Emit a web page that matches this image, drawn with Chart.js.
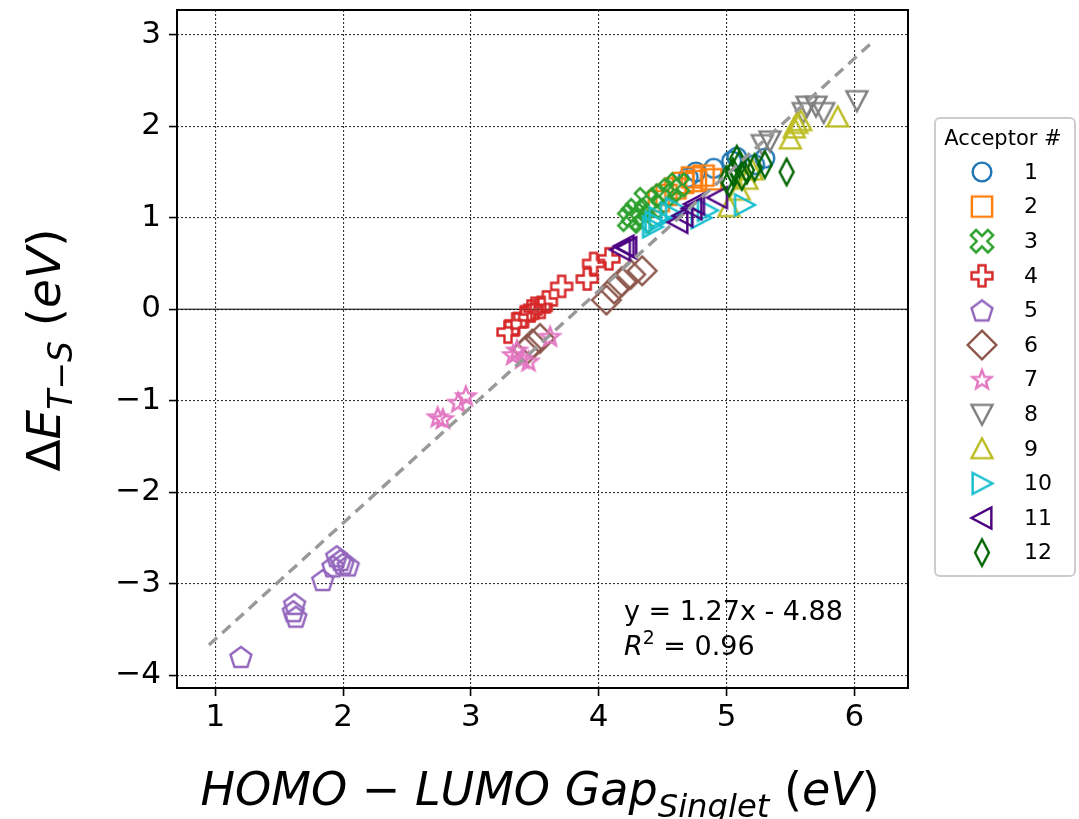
<!DOCTYPE html>
<html>
<head>
<meta charset="utf-8">
<script src="https://cdn.jsdelivr.net/npm/chart.js@4/dist/chart.umd.min.js"></script>
<style>
  body { margin: 0; background: #fff; }
  canvas { display: block; }
</style>
</head>
<body>
<canvas id="c" width="1079" height="819"></canvas>
<script>
// data: [gap (eV), dE T-S (eV)]
const acc1 = [[4.70, 1.44], [4.76, 1.50], [4.90, 1.54], [5.04, 1.62], [5.08, 1.66], [5.22, 1.58], [5.30, 1.65]];
const acc2 = [[4.47, 1.18], [4.53, 1.25], [4.60, 1.32], [4.66, 1.38], [4.73, 1.44], [4.76, 1.40], [4.82, 1.46], [4.88, 1.42]];
const acc3 = [[4.24, 0.98], [4.27, 1.03], [4.30, 1.08], [4.34, 0.96], [4.37, 1.20], [4.42, 1.12], [4.50, 1.24], [4.56, 1.30], [4.62, 1.36]];
const acc4 = [[3.29, -0.25], [3.35, -0.16], [3.42, -0.08], [3.47, -0.02], [3.50, 0.01], [3.55, 0.02], [3.59, 0.08], [3.71, 0.25], [3.91, 0.33], [3.96, 0.50], [4.08, 0.55]];
const acc5 = [[1.20, -3.80], [1.62, -3.22], [1.61, -3.30], [1.63, -3.36], [1.84, -2.96], [1.92, -2.81], [1.95, -2.70], [1.98, -2.74], [2.00, -2.78], [2.04, -2.80]];
const acc6 = [[3.44, -0.44], [3.48, -0.38], [3.54, -0.32], [4.06, 0.10], [4.12, 0.22], [4.18, 0.30], [4.25, 0.38], [4.34, 0.42]];
const acc7 = [[2.74, -1.18], [2.78, -1.20], [2.90, -1.02], [2.96, -0.95], [3.33, -0.50], [3.36, -0.45], [3.40, -0.54], [3.45, -0.57], [3.62, -0.30]];
const acc8 = [[5.28, 1.80], [5.34, 1.84], [5.60, 2.15], [5.63, 2.22], [5.70, 2.22], [5.76, 2.15], [6.02, 2.28]];
const acc9 = [[5.02, 1.12], [5.10, 1.30], [5.16, 1.42], [5.20, 1.52], [5.50, 1.86], [5.53, 1.98], [5.55, 2.03], [5.58, 2.06], [5.87, 2.10]];
const acc10 = [[4.42, 0.90], [4.44, 0.95], [4.47, 1.00], [4.56, 1.05], [4.60, 1.10], [4.80, 1.00], [4.85, 1.08], [5.14, 1.14]];
const acc11 = [[4.17, 0.65], [4.20, 0.69], [4.22, 0.67], [4.62, 0.95], [4.66, 1.02], [4.73, 1.10], [4.75, 1.15], [4.93, 1.22]];
const acc12 = [[5.00, 1.42], [5.02, 1.38], [5.05, 1.50], [5.08, 1.64], [5.10, 1.58], [5.12, 1.45], [5.16, 1.52], [5.22, 1.55], [5.30, 1.58], [5.47, 1.50]];

const fitX = [0.95, 6.15];
const fitY = [-3.67, 2.93];

const acceptorLabels = ['1', '2', '3', '4', '5', '6', '7', '8', '9', '10', '11', '12'];
const xTicks = [1, 2, 3, 4, 5, 6];
const yTicks = [-4, -3, -2, -1, 0, 1, 2, 3];

const series = [acc1, acc2, acc3, acc4, acc5, acc6, acc7, acc8, acc9, acc10, acc11, acc12];
const colors = ['#1f77b4', '#ff7f0e', '#2ca02c', '#d62728', '#9467bd', '#8c564b',
                '#e377c2', '#7f7f7f', '#bcbd22', '#17becf', '#4b0082', '#006400'];
const shapes = ['o', 's', 'X', 'P', 'p', 'D', '*', 'v', '^', '>', '<', 'd'];

const FONT = '"DejaVu Sans", sans-serif';

// outlined marker drawn once onto a small canvas, used as pointStyle
function makeMarker(shape, color) {
    const S = 44;
    const c = document.createElement('canvas');
    c.width = S; c.height = S;
    const g = c.getContext('2d');
    g.translate(S / 2, S / 2);
    g.scale(1.1, 1.1);
    g.strokeStyle = color;
    g.lineWidth = 2.2;
    g.lineJoin = 'miter';
    const poly = (pts) => {
        g.beginPath();
        pts.forEach((p, i) => i ? g.lineTo(p[0], p[1]) : g.moveTo(p[0], p[1]));
        g.closePath();
        g.stroke();
    };
    const rot = (pts, a) => pts.map(p => [p[0] * Math.cos(a) - p[1] * Math.sin(a), p[0] * Math.sin(a) + p[1] * Math.cos(a)]);
    const plus = (r, w) => [[-w, -r], [w, -r], [w, -w], [r, -w], [r, w], [w, w], [w, r], [-w, r], [-w, w], [-r, w], [-r, -w], [-w, -w]];
    switch (shape) {
        case 'o':
            g.beginPath(); g.arc(0, 0, 8.5, 0, Math.PI * 2); g.stroke(); break;
        case 's':
            poly([[-9.2, -9.2], [9.2, -9.2], [9.2, 9.2], [-9.2, 9.2]]); break;
        case 'P':
            poly(plus(9.5, 3.2)); break;
        case 'X':
            poly(rot(plus(11, 3.4), Math.PI / 4)); break;
        case 'p': {
            const pts = [];
            for (let i = 0; i < 5; i++) {
                const a = -Math.PI / 2 + i * 2 * Math.PI / 5;
                pts.push([10 * Math.cos(a), 10 * Math.sin(a) + 1]);
            }
            poly(pts); break;
        }
        case 'D':
            poly([[0, -13], [13, 0], [0, 13], [-13, 0]]); break;
        case 'd':
            poly([[0, -12], [6.3, 0], [0, 12], [-6.3, 0]]); break;
        case '*': {
            const pts = [];
            for (let i = 0; i < 10; i++) {
                const a = -Math.PI / 2 + i * Math.PI / 5;
                const r = i % 2 ? 3.8 : 9;
                pts.push([r * Math.cos(a), r * Math.sin(a) + 0.5]);
            }
            poly(pts); break;
        }
        case 'v':
            poly([[-9.5, -8.5], [9.5, -8.5], [0, 9.5]]); break;
        case '^':
            poly([[-9.5, 8.5], [9.5, 8.5], [0, -9.5]]); break;
        case '>':
            poly([[-8.5, -9.5], [-8.5, 9.5], [9.5, 0]]); break;
        case '<':
            poly([[8.5, -9.5], [8.5, 9.5], [-9.5, 0]]); break;
    }
    return c;
}

const markers = shapes.map((s, i) => makeMarker(s, colors[i]));

// text with italic / sub / sup pieces, like mathtext
function drawRich(ctx, parts, x, y, size, align) {
    let w = 0;
    const segs = parts.map(p => {
        const s = (p.sub || p.sup) ? size * 0.7 : size;
        const font = (p.it ? 'italic ' : '') + s + 'px ' + FONT;
        ctx.font = font;
        const pw = ctx.measureText(p.t).width;
        w += pw;
        return { p, font, pw };
    });
    let cx = align === 'center' ? x - w / 2 : x;
    segs.forEach(sg => {
        ctx.font = sg.font;
        const dy = sg.p.sub ? size * 0.25 : sg.p.sup ? -size * 0.4 : 0;
        ctx.fillText(sg.p.t, cx, y + dy);
        cx += sg.pw;
    });
}

const extras = {
    id: 'extras',
    beforeDatasetsDraw(chart) {
        const { ctx, chartArea: a, scales: { y } } = chart;
        const y0 = y.getPixelForValue(0);
        ctx.save();
        ctx.strokeStyle = '#000';
        ctx.lineWidth = 1;
        ctx.beginPath();
        ctx.moveTo(a.left, y0); ctx.lineTo(a.right, y0);
        ctx.stroke();
        ctx.restore();
    },
    afterDraw(chart) {
        const { ctx, chartArea: a } = chart;
        ctx.save();
        // frame
        ctx.strokeStyle = '#000';
        ctx.lineWidth = 2;
        ctx.strokeRect(a.left, a.top, a.right - a.left, a.bottom - a.top);

        ctx.fillStyle = '#000';
        ctx.textBaseline = 'alphabetic';

        // fit annotation
        drawRich(ctx, [{ t: 'y = 1.27x - 4.88' }], 624, 620, 27, 'left');
        drawRich(ctx, [{ t: 'R', it: true }, { t: '2', sup: true }, { t: ' = 0.96' }], 624, 655, 27, 'left');

        // axis titles
        drawRich(ctx, [{ t: 'HOMO', it: true }, { t: ' − ' }, { t: 'LUMO', it: true }, { t: ' Gap', it: true },
                       { t: 'Singlet', it: true, sub: true }, { t: ' (' }, { t: 'eV', it: true }, { t: ')' }],
                 540, 805, 46, 'center');
        ctx.save();
        ctx.translate(60, 350);
        ctx.rotate(-Math.PI / 2);
        drawRich(ctx, [{ t: 'Δ' }, { t: 'E', it: true }, { t: 'T−S', it: true, sub: true },
                       { t: ' (' }, { t: 'eV', it: true }, { t: ')' }], 0, 0, 47, 'center');
        ctx.restore();

        // legend
        const lx = 935, ly = 118, lw = 140, lh = 458;
        ctx.fillStyle = 'rgba(255,255,255,0.8)';
        ctx.strokeStyle = '#cccccc';
        ctx.lineWidth = 2;
        ctx.beginPath();
        ctx.roundRect(lx, ly, lw, lh, 5);
        ctx.fill();
        ctx.stroke();
        ctx.fillStyle = '#000';
        ctx.textAlign = 'center';
        ctx.textBaseline = 'middle';
        ctx.font = '21px ' + FONT;
        ctx.fillText('Acceptor #', lx + lw / 2 - 2, 140);
        ctx.textAlign = 'left';
        ctx.font = '22px ' + FONT;
        acceptorLabels.forEach((lab, i) => {
            const cy = 172 + i * 34.6;
            const m = markers[i];
            ctx.drawImage(m, 982 - m.width / 2, cy - m.height / 2);
            ctx.fillText(lab, 1024, cy + 1);
        });
        ctx.restore();
    }
};

const datasets = series.map((pts, i) => ({
    label: acceptorLabels[i],
    data: pts.map(p => ({ x: p[0], y: p[1] })),
    pointStyle: markers[i],
    pointRadius: 10,
    showLine: false,
    order: 13 - i
}));
datasets.push({
    type: 'line',
    label: 'fit',
    data: fitX.map((x, i) => ({ x, y: fitY[i] })),
    borderColor: '#999999',
    borderWidth: 3.4,
    borderDash: [11, 7],
    pointRadius: 0,
    fill: false,
    order: 0
});

const tickFont = { family: FONT, size: 31 };
const gridOpts = { color: 'rgba(0,0,0,0.8)', lineWidth: 1.1, tickLength: 8, tickColor: '#000', tickWidth: 1.6, tickBorderDash: [] };

new Chart(document.getElementById('c'), {
    type: 'scatter',
    data: { datasets },
    options: {
        responsive: false,
        devicePixelRatio: 1,
        animation: false,
        layout: { autoPadding: false, padding: { top: 10, right: 171, left: 0, bottom: 0 } },
        plugins: { legend: { display: false }, tooltip: { enabled: false } },
        scales: {
            x: {
                type: 'linear',
                min: 0.70,
                max: 6.42,
                afterBuildTicks: s => { s.ticks = xTicks.map(v => ({ value: v })); },
                afterFit: s => { s.height = 131; s.paddingLeft = 0; s.paddingRight = 0; },
                ticks: { color: '#000', font: tickFont, padding: 3 },
                grid: gridOpts,
                border: { display: false, dash: [2, 2] }
            },
            y: {
                type: 'linear',
                min: -4.14,
                max: 3.27,
                afterBuildTicks: s => { s.ticks = yTicks.map(v => ({ value: v })); },
                afterFit: s => { s.width = 177; s.paddingTop = 0; s.paddingBottom = 0; },
                ticks: {
                    color: '#000', font: tickFont, padding: 8,
                    callback: v => v < 0 ? '−' + Math.abs(v) : String(v)
                },
                grid: gridOpts,
                border: { display: false, dash: [2, 2] }
            }
        }
    },
    plugins: [extras]
});
</script>
</body>
</html>
